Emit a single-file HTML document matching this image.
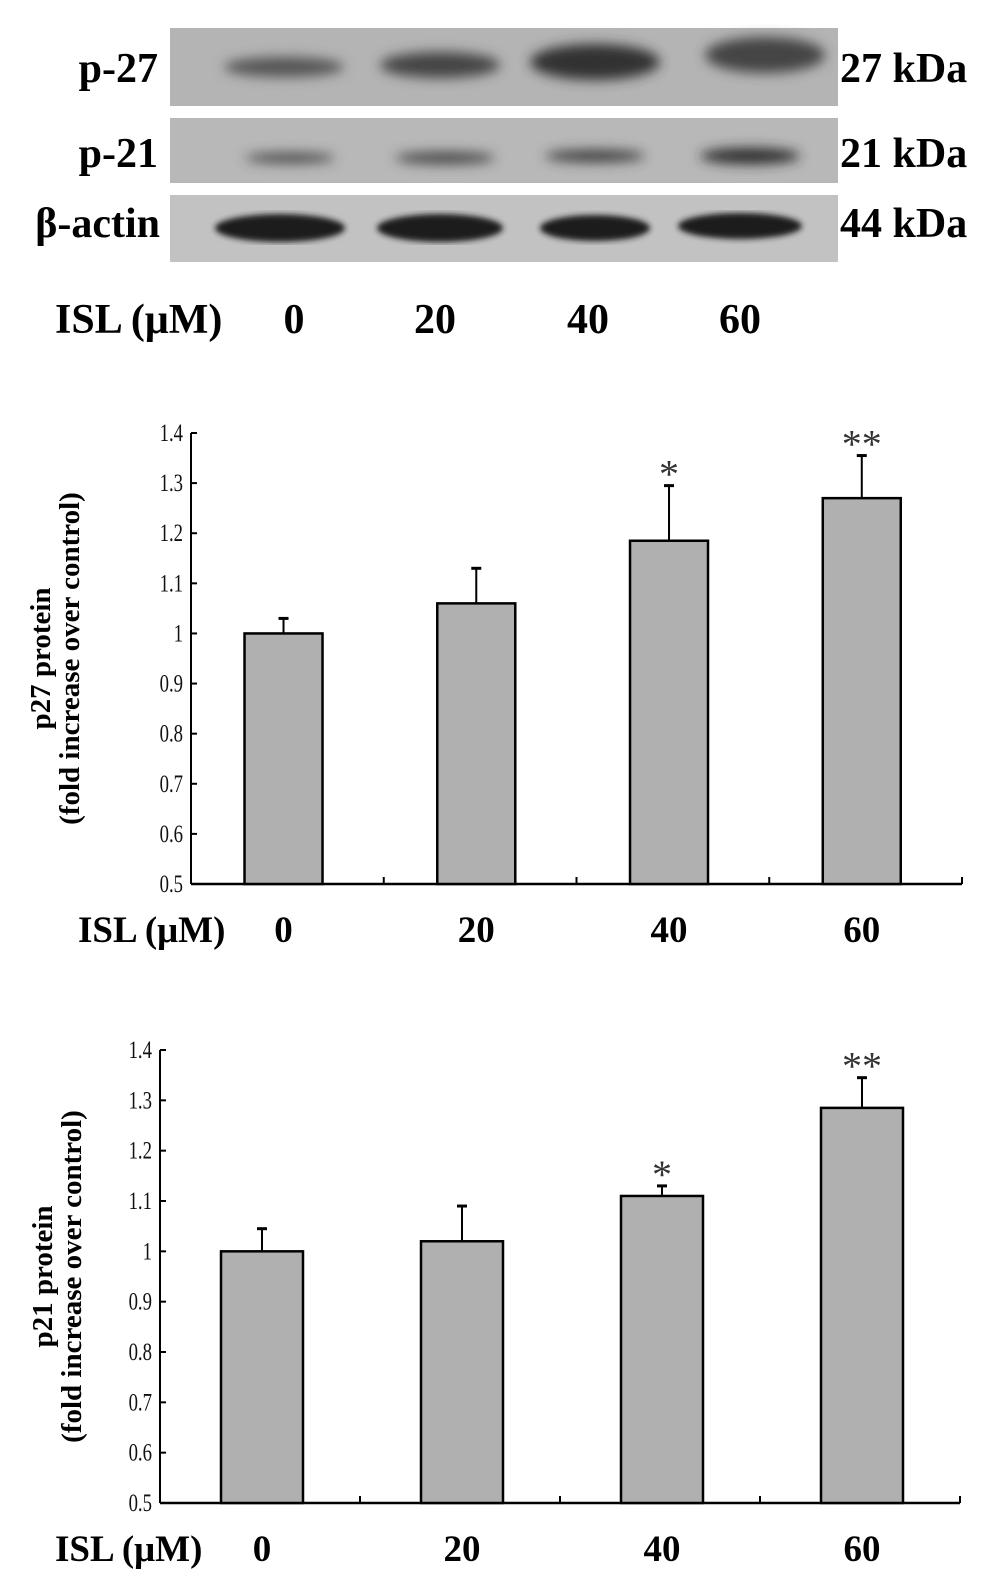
<!DOCTYPE html>
<html><head><meta charset="utf-8"><style>
body{margin:0;background:#fff;width:1004px;height:1594px;overflow:hidden;font-family:"Liberation Serif",serif}
svg{position:absolute;left:0;top:0}
</style></head><body>
<svg width="1004" height="1594">
<defs>
<filter id="blur"><feGaussianBlur stdDeviation="6"/></filter>
<filter id="blur2"><feGaussianBlur stdDeviation="3"/></filter>
</defs>
<g font-weight="bold" font-size="42">
<rect x="170" y="28" width="668" height="78" fill="#b4b4b4"/>
<rect x="170" y="118" width="668" height="65" fill="#b8b8b8"/>
<rect x="170" y="195" width="668" height="67" fill="#c2c2c2"/>
<g filter="url(#blur)" fill="#333">
<ellipse cx="284" cy="67" rx="60" ry="10" fill="#555"/>
<ellipse cx="440" cy="65" rx="60" ry="13" fill="#444"/>
<ellipse cx="595" cy="62" rx="65" ry="18" fill="#333"/>
<ellipse cx="765" cy="55" rx="60" ry="18" fill="#444"/>
<ellipse cx="290" cy="158" rx="45" ry="5" fill="#444"/>
<ellipse cx="445" cy="158" rx="50" ry="6" fill="#444"/>
<ellipse cx="595" cy="156" rx="50" ry="6" fill="#3a3a3a"/>
<ellipse cx="750" cy="156" rx="50" ry="8" fill="#2a2a2a"/>
</g>
<g filter="url(#blur2)" fill="#1a1a1a">
<ellipse cx="280" cy="228" rx="65" ry="14"/>
<ellipse cx="440" cy="228" rx="63" ry="14"/>
<ellipse cx="595" cy="228" rx="55" ry="13"/>
<ellipse cx="740" cy="226" rx="62" ry="13"/>
</g>
<text x="158" y="82" text-anchor="end">p-27</text>
<text x="158" y="167" text-anchor="end">p-21</text>
<text x="160" y="237" text-anchor="end">β-actin</text>
<text x="840" y="82">27 kDa</text>
<text x="840" y="167">21 kDa</text>
<text x="840" y="237">44 kDa</text>
<text x="55" y="333">ISL (μM)</text>
<text x="294" y="333" text-anchor="middle">0</text>
<text x="435" y="333" text-anchor="middle">20</text>
<text x="588" y="333" text-anchor="middle">40</text>
<text x="740" y="333" text-anchor="middle">60</text>
</g>
<g id="c1"></g>
<g id="c2"></g>
</svg>
<script>
const categories=["0","20","40","60"];
const p27Values=[1.0,1.06,1.185,1.27];
const p27Errors=[0.03,0.07,0.11,0.085];
const p27Sig=["","","*","**"];
const p21Values=[1.0,1.02,1.11,1.285];
const p21Errors=[0.045,0.07,0.02,0.06];
const p21Sig=["","","*","**"];
const yTicks=["0.5","0.6","0.7","0.8","0.9","1","1.1","1.2","1.3","1.4"];
const NS="http://www.w3.org/2000/svg";
function mk(p,t,a){const e=document.createElementNS(NS,t);for(const k in a)e.setAttribute(k,a[k]);p.appendChild(e);return e;}
function chart(g,cfg,vals,errs,sig,title1){
  const x0=cfg.x0,x1=cfg.x1,yT=cfg.yTop,yB=cfg.yBot;
  const y=v=>yB-(v-0.5)/(1.4-0.5)*(yB-yT);
  const band=(x1-x0)/categories.length;
  const bx=i=>x0+band*i+band*cfg.off;
  mk(g,'line',{x1:x0,y1:yT,x2:x0,y2:yB,stroke:'#000','stroke-width':2});
  mk(g,'line',{x1:x0,y1:yB,x2:x1,y2:yB,stroke:'#000','stroke-width':2.5});
  yTicks.forEach(t=>{const v=parseFloat(t);
    mk(g,'line',{x1:x0,y1:y(v),x2:x0+6,y2:y(v),stroke:'#000','stroke-width':2});
    const tx=mk(g,'text',{x:x0-8,y:y(v)+8,'text-anchor':'end','font-size':25,fill:'#111',transform:`translate(${x0-8},0) scale(0.75,1) translate(${-(x0-8)},0)`});
    
    
    tx.textContent=t;});
  for(let i=1;i<=categories.length;i++){const tx=x0+band*i;mk(g,'line',{x1:tx,y1:yB,x2:tx,y2:yB-7,stroke:'#000','stroke-width':2});}
  categories.forEach((c,i)=>{
    const cx=bx(i),v=vals[i],e=errs[i];
    const r=mk(g,'rect',{x:cx-cfg.bw/2,y:y(v),width:cfg.bw,height:yB-y(v),fill:'#b0b0b0',stroke:'#000','stroke-width':2.5});
    
    
    mk(g,'line',{x1:cx,y1:y(v),x2:cx,y2:y(v+e),stroke:'#000','stroke-width':2});
    mk(g,'line',{x1:cx-5,y1:y(v+e),x2:cx+5,y2:y(v+e),stroke:'#000','stroke-width':3});
    if(sig[i]){const s=mk(g,'text',{x:cx,y:y(v+e)+2,'text-anchor':'middle','font-size':40,fill:'#333'});
      
      
      s.textContent=sig[i];}
    const l=mk(g,'text',{x:cx,y:yB+58,'text-anchor':'middle','font-size':37,'font-weight':'bold'});
    
    
    l.textContent=c;
  });
  const il=mk(g,'text',{x:cfg.islX,y:yB+58,'font-size':37,'font-weight':'bold'});
  
  
  il.textContent='ISL (μM)';
  const cy=(yT+yB)/2;
  const t1=mk(g,'text',{x:0,y:0,'text-anchor':'middle','font-size':29,'font-weight':'bold',transform:`translate(${cfg.tx},${cy}) rotate(-90)`});
  
  
  t1.textContent=title1;
  const t2=mk(g,'text',{x:0,y:0,'text-anchor':'middle','font-size':29,'font-weight':'bold',transform:`translate(${cfg.tx+29},${cy}) rotate(-90)`});
  
  
  t2.textContent='(fold increase over control)';
}
chart(document.getElementById('c1'),{x0:191,x1:962,yTop:433,yBot:884,bw:78,off:0.48,islX:78,tx:50},p27Values,p27Errors,p27Sig,'p27 protein');
chart(document.getElementById('c2'),{x0:160,x1:960,yTop:1050,yBot:1503,bw:82,off:0.51,islX:55,tx:52},p21Values,p21Errors,p21Sig,'p21 protein');
</script>
</body></html>
